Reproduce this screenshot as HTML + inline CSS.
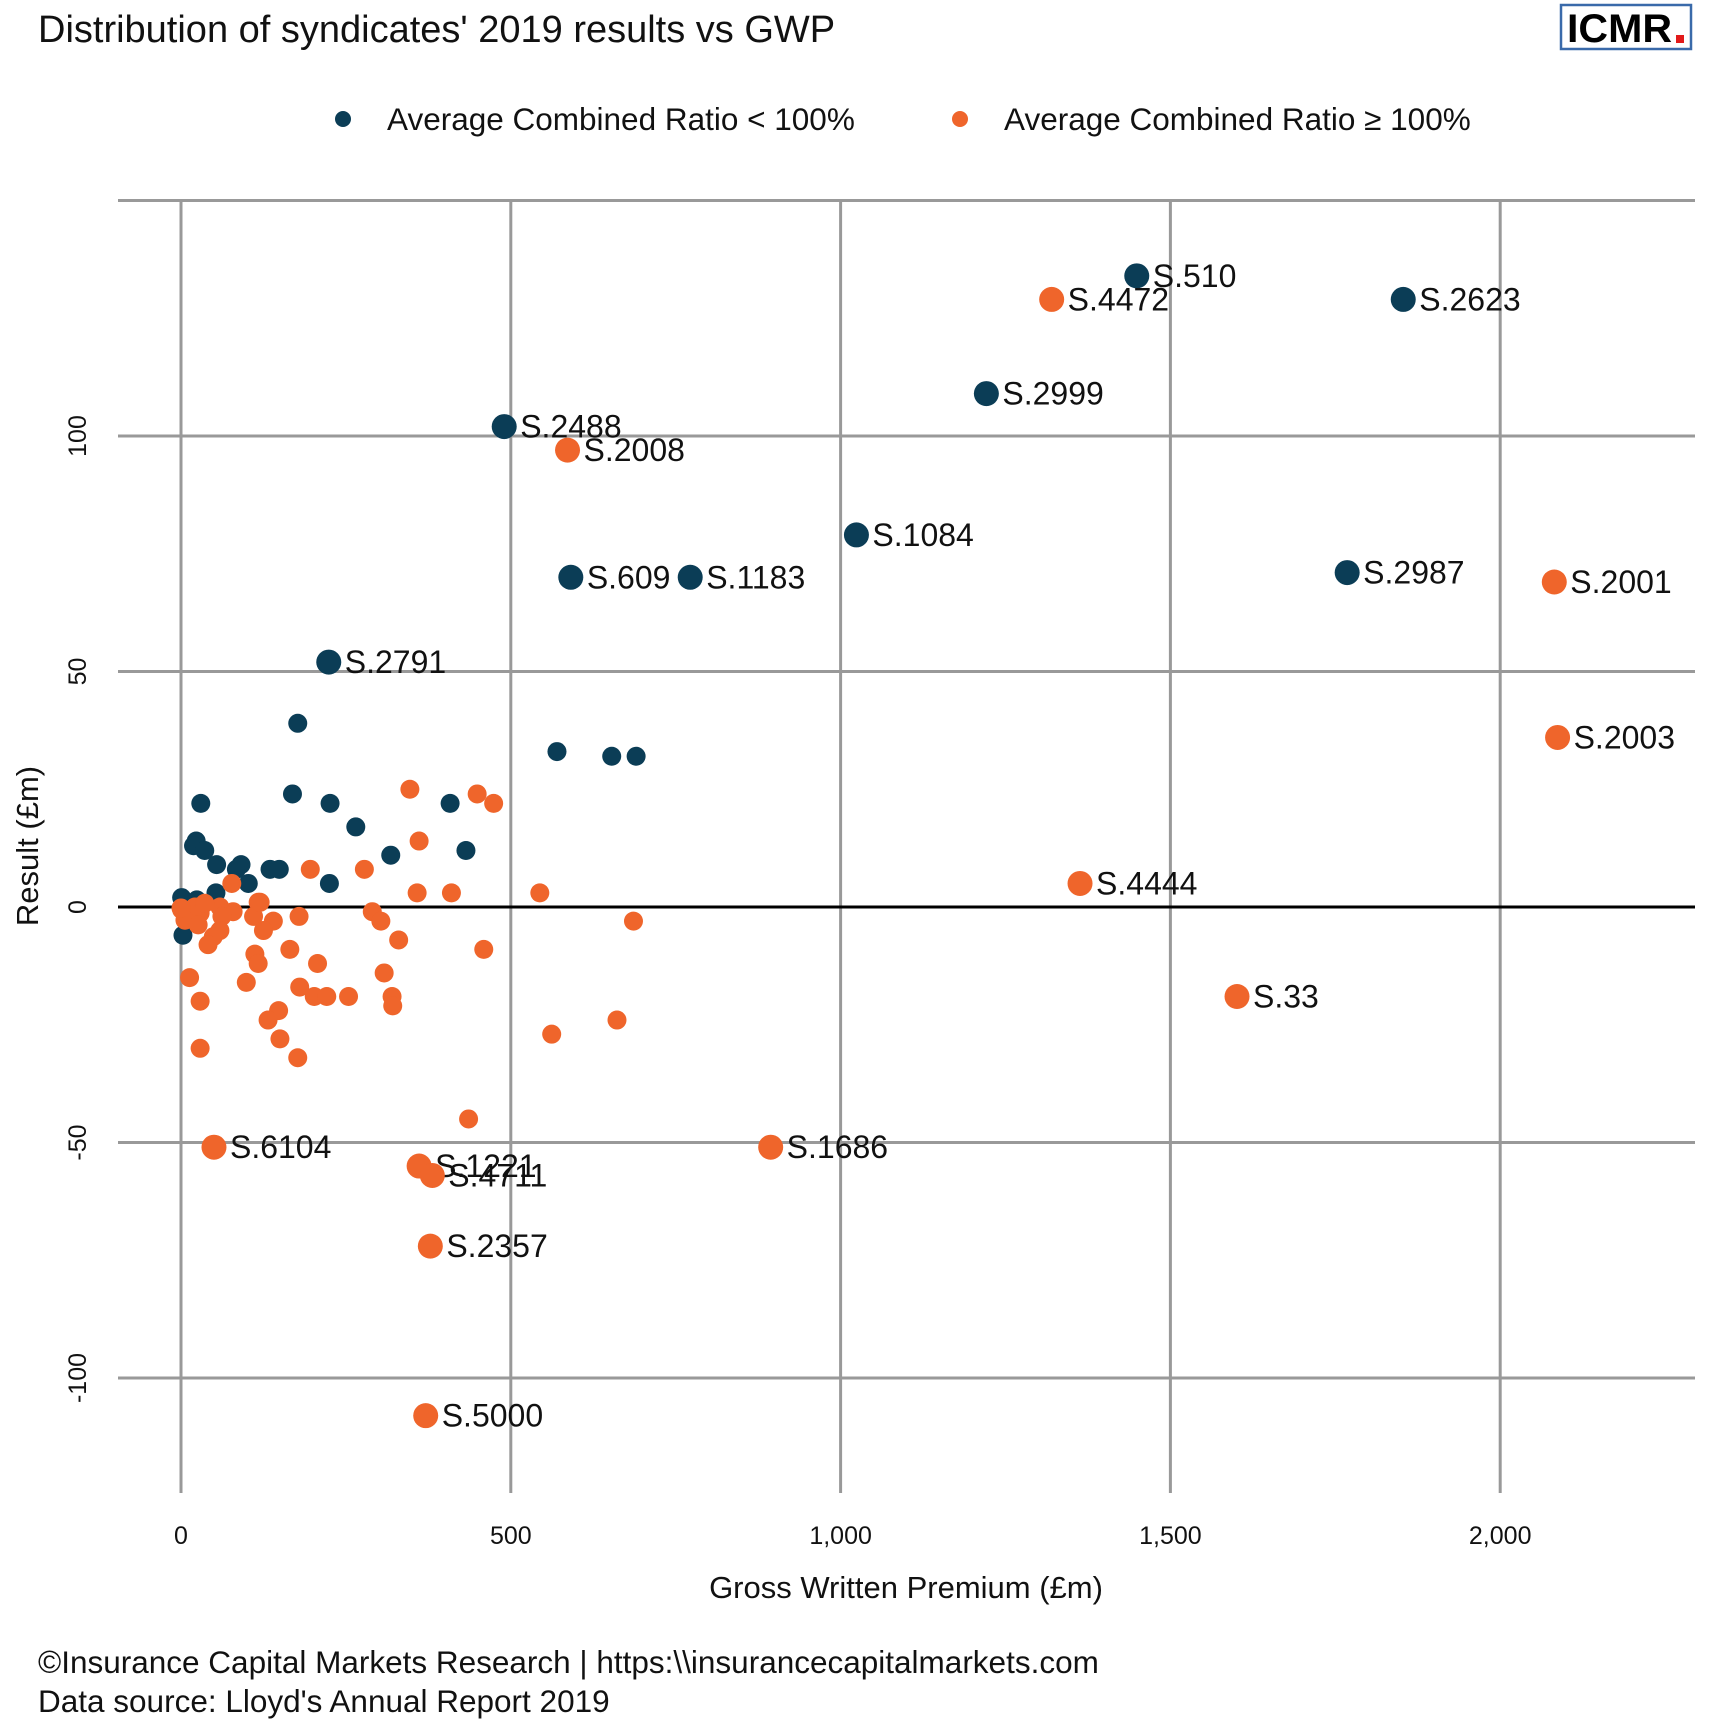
<!DOCTYPE html>
<html><head><meta charset="utf-8"><style>
html,body{margin:0;padding:0;background:#fff;}
svg{display:block;font-family:"Liberation Sans",sans-serif;}
</style></head><body>
<svg id="chart" width="1728" height="1728" viewBox="0 0 1728 1728">
<text x="38" y="42" font-size="38" fill="#111">Distribution of syndicates' 2019 results vs GWP</text>
<g>
<rect x="1561" y="5" width="130" height="44" fill="#fff" stroke="#3a6aaa" stroke-width="2.5"/>
<text x="1567" y="42" font-size="40" font-weight="bold" fill="#000" textLength="105" lengthAdjust="spacingAndGlyphs">ICMR</text>
<rect x="1676" y="35" width="8" height="8" fill="#e21a1a"/>
</g>
<g>
<circle cx="343" cy="119" r="8" fill="#0b3d56"/>
<text x="387" y="130" font-size="31.5" fill="#111">Average Combined Ratio &lt; 100%</text>
<circle cx="960" cy="119" r="8" fill="#ef652b"/>
<text x="1004" y="130" font-size="31.5" fill="#111">Average Combined Ratio  ≥ 100%</text>
</g>
<g id="grid"></g>
<g id="ticks"></g>
<g id="points"></g>
<text x="906" y="1598" font-size="31" text-anchor="middle" fill="#111">Gross Written Premium (£m)</text>
<text transform="translate(38,846) rotate(-90)" font-size="31" text-anchor="middle" fill="#111">Result (£m)</text>
<text x="38" y="1673" font-size="31.5" fill="#111">©Insurance Capital Markets Research | https:\\insurancecapitalmarkets.com</text>
<text x="38" y="1712" font-size="31.5" fill="#111">Data source: Lloyd's Annual Report 2019</text>
</svg>
<script>
const xTicks=[0,500,1000,1500,2000];
const xTickLabels=["0","500","1,000","1,500","2,000"];
const yTicks=[150,100,50,0,-50,-100];
const yTickLabels=["","100","50","0","-50","-100"];
// labeled syndicates
const labNames=["S.510","S.2623","S.2999","S.2488","S.1084","S.609","S.1183","S.2987","S.2791",
"S.4472","S.2008","S.2001","S.2003","S.4444","S.33","S.6104","S.1686","S.1221","S.4711","S.2357","S.5000"];
const labGWP=[1449,1853,1221,490,1024,591,772,1768,224,1320,586,2082,2087,1363,1601,50,894,361,381,378,371];
const labResult=[134,129,109,102,79,70,70,71,52,129,97,69,36,5,-19,-51,-51,-55,-57,-72,-108];
const labGroup=["lt","lt","lt","lt","lt","lt","lt","lt","lt","ge","ge","ge","ge","ge","ge","ge","ge","ge","ge","ge","ge"];
// unlabeled, combined ratio < 100%
const blueGWP=[177,570,653,690,30,169,226,265,318,408,432,23,19,36,54,84,91,102,135,149,225,53,1,24,3];
const blueResult=[39,33,32,32,22,24,22,17,11,22,12,14,13,12,9,8,9,5,8,8,5,3,2,1.5,-6];
// unlabeled, combined ratio >= 100%
const orangeGWP=[347,449,474,361,196,278,77,358,410,544,117,1,21,29,59,79,6,26,62,110,140,125,59,49,41,120,36,0,179,290,303,330,686,112,117,165,207,459,308,13,99,180,202,221,254,320,321,29,148,132,562,661,150,29,177,436];
const orangeResult=[25,24,22,14,8,8,5,3,3,3,1,-0.6,0,-1.3,0,-1,-2.8,-3.8,-2,-2,-3,-5,-5,-6.3,-8,1,0.8,-0.2,-2,-1,-3,-7,-3,-10,-12,-9,-12,-9,-14,-15,-16,-17,-19,-19,-19,-19,-21,-20,-22,-24,-27,-24,-28,-30,-32,-45];

const X0=181, XS=0.6596, Y0=907, YS=4.71;
function xs(v){return X0+v*XS;}
function ys(v){return Y0-v*YS;}
const NS="http://www.w3.org/2000/svg";
function mk(tag,attrs,parent){const e=document.createElementNS(NS,tag);for(const k in attrs)e.setAttribute(k,attrs[k]);parent.appendChild(e);return e;}
const grid=document.getElementById('grid'),ticks=document.getElementById('ticks'),pts=document.getElementById('points');
const L=118,R=1695,T=ys(150),B=1493;
xTicks.forEach((t,i)=>{
 const l=mk('line',{x1:xs(t),x2:xs(t),y1:T,y2:B,stroke:'#999','stroke-width':3},grid);
 
 
 const tx=mk('text',{x:xs(t),y:1544,'font-size':25,'text-anchor':'middle',fill:'#111'},ticks);
 tx.textContent=xTickLabels[i];
 
 
});
yTicks.forEach((t,i)=>{
 const l=mk('line',{x1:L,x2:R,y1:ys(t),y2:ys(t),stroke:t===0?'#000':'#999','stroke-width':3},grid);
 
 
 if(yTickLabels[i]){
  const tx=mk('text',{transform:'translate(86,'+ys(t)+') rotate(-90)','font-size':25,'text-anchor':'middle',fill:'#111'},ticks);
  tx.textContent=yTickLabels[i];
  
  
 }
});
const BLUE='#0b3d56',ORANGE='#ef652b';
blueGWP.forEach((g,i)=>{
 const c=mk('circle',{cx:xs(g),cy:ys(blueResult[i]),r:9.5,fill:BLUE},pts);
 
 
});
orangeGWP.forEach((g,i)=>{
 const c=mk('circle',{cx:xs(g),cy:ys(orangeResult[i]),r:9.5,fill:ORANGE},pts);
 
 
});
labGWP.forEach((g,i)=>{
 const cx=xs(g),cy=ys(labResult[i]);
 const c=mk('circle',{cx:cx,cy:cy,r:12.5,fill:labGroup[i]==='lt'?BLUE:ORANGE},pts);
 
 
 const t=mk('text',{x:cx+16,y:cy+11,'font-size':32,fill:'#111'},pts);
 t.textContent=labNames[i];
 
 
});
</script>
</body></html>
